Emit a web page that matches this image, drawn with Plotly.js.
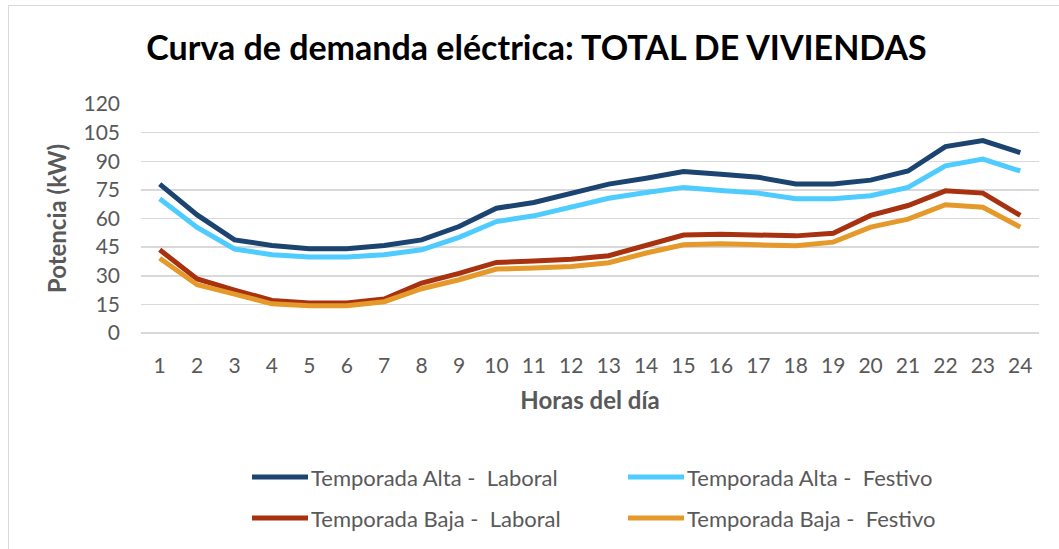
<!DOCTYPE html>
<html>
<head>
<meta charset="utf-8">
<script src="https://cdn.plot.ly/plotly-3.0.1.min.js"></script>
<style>
  html, body { margin:0; padding:0; background:#fff; }
  #wrap { position:relative; width:1059px; height:549px; overflow:hidden; }
  #chart { position:absolute; left:0; top:0; width:1059px; height:549px; }
  #frame { position:absolute; left:8px; top:5px; width:1200px; height:700px;
           border-left:1.5px solid #D9D9D9; border-top:1.5px solid #D9D9D9; pointer-events:none; }
</style>
</head>
<body>
<div id="wrap"><div id="chart"></div><div id="frame"></div></div>
<script>
const hours = ["1","2","3","4","5","6","7","8","9","10","11","12","13","14","15","16","17","18","19","20","21","22","23","24"];
const altaLaboral = [78.0,61.9,48.8,45.9,44.1,44.1,45.9,48.8,55.8,65.4,68.4,73.1,78.0,81.1,84.6,83.2,81.6,78.1,78.1,80.1,84.9,97.7,100.8,94.5];
const altaFestivo = [70.3,55.3,44.0,41.0,39.8,39.8,41.0,43.6,50.1,58.4,61.4,66.1,70.6,73.6,76.3,74.7,73.3,70.3,70.3,71.9,76.3,87.6,91.1,84.9];
const bajaLaboral = [43.6,28.3,22.5,17.1,15.7,15.7,17.8,26.2,31.2,37.0,37.7,38.7,40.5,46.2,51.3,51.8,51.5,50.9,52.3,61.6,66.8,74.5,73.3,61.6];
const bajaFestivo = [39.2,25.3,20.4,15.3,14.3,14.3,16.4,23.2,27.9,33.5,34.0,34.9,36.8,41.9,46.2,46.8,46.2,45.7,47.6,55.5,59.7,67.2,65.9,55.5];
const seriesNames = ["Temporada Alta -  Laboral","Temporada Alta -  Festivo","Temporada Baja -  Laboral","Temporada Baja -  Festivo"];
const seriesValues = [altaLaboral, altaFestivo, bajaLaboral, bajaFestivo];
const seriesColors = ["#1B4470","#4FCCFF","#A8310F","#E4992A"];
const yTicks = [0,15,30,45,60,75,90,105,120];

const FONT = "Lato, 'Open Sans', sans-serif";
const GRAY = "#595959";

const W = 1059, H = 549;
const M = {l:141, r:20, t:104, b:216};
const PW = W - M.l - M.r, PH = H - M.t - M.b;
const px2x = px => (px - M.l) / PW;
const py2y = py => (H - M.b - py) / PH;

const traces = seriesNames.map((name, i) => ({
  type: "scatter",
  mode: "lines",
  name: name,
  x: hours,
  y: seriesValues[i],
  line: {color: seriesColors[i], width: 5, shape: "linear"},
  showlegend: false,
  hoverinfo: "skip"
}));

// custom legend (2 columns x 2 rows)
const legCols = [252, 628];
const legRows = [477, 518];
const shapes = [];
const annotations = [];
seriesNames.forEach((name, i) => {
  const c = legCols[i % 2], r = legRows[Math.floor(i / 2)];
  shapes.push({type:"line", xref:"paper", yref:"paper",
    x0: px2x(c), x1: px2x(c + 56), y0: py2y(r), y1: py2y(r),
    line:{color: seriesColors[i], width:5}, layer:"above"});
  annotations.push({xref:"paper", yref:"paper", x: px2x(c + 57), y: py2y(r),
    xanchor:"left", yanchor:"middle", showarrow:false, text: name,
    font:{family: FONT, size: 22, color: GRAY}});
});

const layout = {
  width: W, height: H,
  margin: M,
  paper_bgcolor: "#ffffff",
  plot_bgcolor: "#ffffff",
  font: {family: FONT, color: GRAY},
  title: {
    text: "Curva de demanda eléctrica: TOTAL DE VIVIENDAS",
    xref: "container", yref: "container",
    x: 536.5 / W, xanchor: "center",
    y: 1 - 48 / H, yanchor: "middle",
    font: {family: FONT, size: 34, color: "#000000", weight: 700}
  },
  xaxis: {
    type: "category",
    range: [-0.5, 23.5],
    showgrid: false, zeroline: false, showline: false,
    ticks: "", ticklabelstandoff: 18,
    tickfont: {family: FONT, size: 21, color: GRAY},
    title: {text: "Horas del día", standoff: 16,
      font: {family: FONT, size: 24, color: GRAY, weight: 700}},
    automargin: false
  },
  yaxis: {
    range: [0, 120],
    tickvals: yTicks,
    showgrid: true, gridcolor: "#D9D9D9", gridwidth: 1.5,
    zeroline: true, zerolinecolor: "#D9D9D9", zerolinewidth: 1.5,
    showline: false, ticks: "", ticklabelstandoff: 20,
    tickfont: {family: FONT, size: 21, color: GRAY},
    title: {text: "Potencia (kW)", standoff: 10,
      font: {family: FONT, size: 24, color: GRAY, weight: 700}},
    automargin: false
  },
  shapes: shapes,
  annotations: annotations,
  showlegend: false
};

Plotly.newPlot("chart", traces, layout, {displayModeBar: false, staticPlot: true});
</script>
</body>
</html>
